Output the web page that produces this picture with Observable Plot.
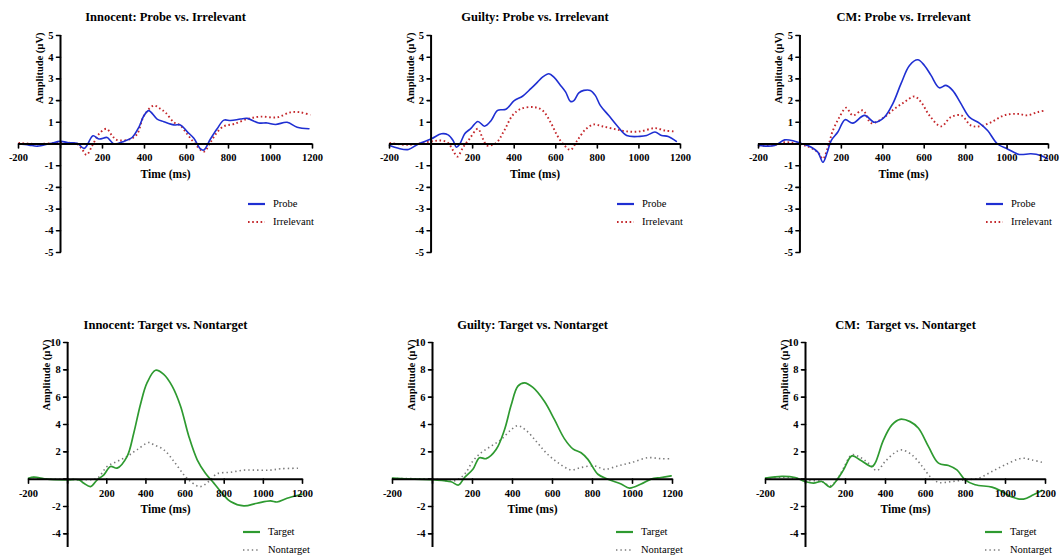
<!DOCTYPE html>
<html><head><meta charset="utf-8">
<script src="https://cdn.jsdelivr.net/npm/d3@7"></script>
<script src="https://cdn.jsdelivr.net/npm/@observablehq/plot@0.6"></script>
<style>
body{margin:0;background:#fff;}
#root{position:relative;width:1062px;height:560px;overflow:hidden;font-family:"Liberation Serif","Times New Roman",serif;}
.panel{position:absolute;}
.panel svg text{font-family:"Liberation Serif","Times New Roman",serif;}
.legend{position:absolute;font-size:10.5px;color:#000;line-height:18px;}
.legend .row{display:flex;align-items:center;height:18px;}
.legend svg{display:block;margin-right:8px;}
</style></head><body><div id="root"></div><script>
// ---- data (time in ms, amplitude in µV) ----
const xTicks = [-200, 0, 200, 400, 600, 800, 1000, 1200];
const xTickLabels = [-200, 200, 400, 600, 800, 1000, 1200];
const yTicksTop = [-5, -4, -3, -2, -1, 0, 1, 2, 3, 4, 5];
const yLabelsTop = [-5, -4, -3, -2, -1, 1, 2, 3, 4, 5];
const yTicksBottom = [-4, -2, 0, 2, 4, 6, 8, 10];
const yLabelsBottom = [-4, -2, 2, 4, 6, 8, 10];

const titles = ["Innocent: Probe vs. Irrelevant", "Guilty: Probe vs. Irrelevant", "CM: Probe vs. Irrelevant",
  "Innocent: Target vs. Nontarget", "Guilty: Target vs. Nontarget", "CM:  Target vs. Nontarget"];

const innocentProbe = [[-200,0],[-150,-0.05],[-110,-0.1],[-50,0.02],[0,0.12],[40,0.06],[80,0.03],[114,-0.2],[155,0.38],[183,0.23],[222,0.3],[238,0.15],[256,0],[302,0.12],[341,0.3],[373,0.77],[397,1.3],[420,1.54],[460,1.15],[492,1.03],[540,0.88],[571,0.88],[603,0.57],[635,0.26],[667,-0.23],[682,-0.28],[714,0.23],[746,0.7],[778,1.1],[810,1.08],[857,1.15],[889,1.18],[944,0.97],[984,0.97],[1024,0.9],[1079,1.0],[1127,0.77],[1183,0.7]];
const innocentIrrelevant = [[-200,0.05],[-111,0],[0,0.05],[79,0],[103,-0.25],[124,-0.5],[151,-0.08],[183,0.46],[219,0.7],[246,0.38],[270,0.18],[333,0.23],[365,0.46],[397,1.3],[444,1.77],[476,1.62],[500,1.45],[540,1.0],[571,0.85],[603,0.46],[635,0.08],[682,-0.35],[714,0.08],[746,0.54],[778,0.82],[825,0.92],[889,1.15],[952,1.26],[1032,1.23],[1095,1.46],[1143,1.46],[1190,1.34]];
const guiltyProbe = [[-200,-0.07],[-157,-0.2],[-109,-0.25],[-61,0],[2,0.24],[50,0.47],[82,0.42],[106,0.16],[122,-0.15],[138,0],[162,0.47],[193,0.73],[225,1.04],[257,0.82],[289,1.08],[320,1.55],[360,1.6],[400,2.0],[440,2.2],[480,2.55],[512,2.85],[536,3.08],[567,3.24],[591,3.08],[623,2.7],[647,2.4],[671,1.96],[687,2.0],[711,2.36],[735,2.47],[766,2.47],[790,2.24],[814,1.78],[854,1.32],[894,0.85],[941,0.39],[1005,0.35],[1037,0.39],[1077,0.55],[1109,0.39],[1141,0.35],[1180,0.12]];
const guiltyIrrelevant = [[-200,0.05],[-109,-0.04],[2,0.12],[50,0.16],[82,0.05],[106,-0.3],[127,-0.58],[154,-0.15],[185,0.24],[225,0.7],[249,0.24],[270,-0.07],[313,0.05],[352,0.62],[392,1.32],[432,1.62],[496,1.7],[536,1.55],[575,1.0],[607,0.39],[639,-0.04],[671,-0.27],[703,0.16],[743,0.67],[782,0.9],[822,0.82],[878,0.7],[941,0.58],[1005,0.58],[1077,0.73],[1125,0.62],[1173,0.58]];
const cmProbe = [[-200,-0.07],[-122,-0.07],[-74,0.19],[-26,0.13],[14,0],[55,-0.15],[87,-0.38],[111,-0.84],[132,-0.38],[151,0.16],[183,0.55],[218,1.12],[255,0.96],[312,1.32],[360,1.0],[408,1.24],[448,1.85],[488,2.78],[529,3.62],[569,3.88],[601,3.62],[633,3.16],[673,2.59],[705,2.7],[737,2.47],[778,1.85],[818,1.24],[866,0.96],[906,0.62],[954,0],[1002,-0.23],[1059,-0.48],[1115,-0.45],[1163,-0.53],[1195,-0.68]];
const cmIrrelevant = [[-200,-0.07],[-122,-0.04],[-74,0.08],[-26,0.04],[39,-0.12],[87,-0.38],[111,-0.68],[135,-0.15],[159,0.62],[191,1.24],[223,1.67],[255,1.32],[304,1.55],[344,0.96],[408,1.24],[456,1.62],[504,1.93],[553,2.19],[585,1.93],[625,1.32],[681,0.81],[729,1.24],[778,1.32],[826,0.85],[866,0.81],[922,1.0],[986,1.32],[1051,1.39],[1099,1.32],[1147,1.47],[1187,1.55]];

const innocentTarget = [[-200,0.07],[-172,0.15],[-104,0],[0,-0.05],[58,-0.05],[83,-0.3],[117,-0.54],[151,-0.05],[185,0.32],[219,0.93],[253,0.81],[304,1.67],[338,3.38],[372,5.47],[406,7.06],[449,7.97],[491,7.67],[534,6.81],[577,5.34],[619,3.14],[662,1.42],[704,0.44],[747,-0.29],[789,-1.03],[832,-1.64],[900,-1.96],[968,-1.76],[1036,-1.59],[1070,-1.67],[1121,-1.4],[1197,-1.1]];
const innocentNontarget = [[-200,0.07],[-172,0.12],[-104,0],[0,0],[83,-0.05],[151,0.07],[202,0.93],[253,1.3],[304,1.67],[355,2.16],[415,2.68],[440,2.52],[491,2.16],[543,1.3],[594,0.32],[628,-0.17],[675,-0.55],[721,-0.17],[764,0.4],[832,0.5],[900,0.66],[968,0.66],[1036,0.66],[1087,0.76],[1189,0.8]];
const guiltyTarget = [[-200,0.07],[-90,0],[10,-0.05],[93,-0.19],[130,-0.43],[160,0.12],[202,0.72],[235,1.57],[268,1.5],[318,2.17],[360,3.62],[393,5.4],[427,6.81],[460,7.05],[502,6.71],[560,5.68],[610,4.35],[660,2.95],[702,2.22],[743,1.93],[777,1.45],[827,0.36],[877,0],[943,-0.36],[985,-0.65],[1043,-0.36],[1093,0],[1143,0.12],[1193,0.24]];
const guiltyNontarget = [[-200,0.05],[10,0],[110,-0.12],[160,0.36],[202,1.33],[243,1.93],[293,2.42],[343,2.9],[393,3.62],[427,3.91],[468,3.57],[518,2.78],[568,1.93],[627,1.21],[693,0.68],[743,0.85],[810,0.97],[860,0.72],[927,0.97],[993,1.21],[1077,1.57],[1143,1.5],[1193,1.5]];
const cmTarget = [[-200,0.07],[-118,0.2],[-52,0.12],[-2,-0.17],[40,-0.29],[82,-0.17],[123,-0.58],[157,-0.05],[190,0.68],[232,1.7],[273,1.41],[332,0.92],[348,1.17],[390,2.87],[432,3.97],[473,4.38],[523,4.21],[565,3.72],[615,2.38],[665,1.17],[715,1.0],[757,0.68],[798,-0.05],[848,-0.41],[932,-0.58],[982,-0.9],[1032,-1.31],[1090,-1.46],[1140,-1.14],[1182,-0.83]];
const cmNontarget = [[-200,0.07],[-118,0.15],[-52,0.07],[15,-0.1],[82,-0.17],[123,-0.49],[157,-0.05],[190,0.8],[232,1.78],[273,1.6],[315,1.17],[357,0.63],[398,1.29],[448,1.95],[482,2.14],[532,1.78],[582,0.97],[623,0.19],[665,-0.24],[732,-0.17],[798,-0.05],[865,0.07],[932,0.56],[998,1.05],[1082,1.53],[1132,1.41],[1182,1.24]];

// ---- styles ----
const FONT = '"Liberation Serif", "Times New Roman", serif';
const probeStyle = {label: "Probe", stroke: "#1f2fd2", strokeWidth: 1.6, dash: null};
const irrStyle = {label: "Irrelevant", stroke: "#c4272b", strokeWidth: 1.9, dash: "1.6 2.6"};
const targetStyle = {label: "Target", stroke: "#2e9a30", strokeWidth: 1.7, dash: null};
const nontargetStyle = {label: "Nontarget", stroke: "#7a7a7a", strokeWidth: 1.6, dash: "1.4 3"};

const tickShape = {draw(context, l) { context.moveTo(0, 0); context.lineTo(0, -l); }};

const panels = [
  {left: 0, top: 0, h: 260, ml: 18, mr: 42, mt: 35, mb: 8, yDomain: [-5, 5], yTicks: yTicksTop, yLabels: yLabelsTop, a: innocentProbe, b: innocentIrrelevant, sa: probeStyle, sb: irrStyle, legend: [248, 195]},
  {left: 354, top: 0, h: 260, ml: 35, mr: 28, mt: 35, mb: 8, yDomain: [-5, 5], yTicks: yTicksTop, yLabels: yLabelsTop, a: guiltyProbe, b: guiltyIrrelevant, sa: probeStyle, sb: irrStyle, legend: [617, 195]},
  {left: 708, top: 0, h: 260, ml: 50, mr: 14, mt: 35, mb: 8, yDomain: [-5, 5], yTicks: yTicksTop, yLabels: yLabelsTop, a: cmProbe, b: cmIrrelevant, sa: probeStyle, sb: irrStyle, legend: [986, 195]},
  {left: 0, top: 280, h: 280, ml: 28, mr: 52, mt: 62, mb: 13, yDomain: [-5, 10], yTicks: yTicksBottom, yLabels: yLabelsBottom, a: innocentTarget, b: innocentNontarget, sa: targetStyle, sb: nontargetStyle, legend: [243, 523]},
  {left: 354, top: 280, h: 280, ml: 38, mr: 36, mt: 62, mb: 13, yDomain: [-5, 10], yTicks: yTicksBottom, yLabels: yLabelsBottom, a: guiltyTarget, b: guiltyNontarget, sa: targetStyle, sb: nontargetStyle, legend: [616, 523]},
  {left: 708, top: 280, h: 280, ml: 57, mr: 17, mt: 62, mb: 13, yDomain: [-5, 10], yTicks: yTicksBottom, yLabels: yLabelsBottom, a: cmTarget, b: cmNontarget, sa: targetStyle, sb: nontargetStyle, legend: [985, 523]}
];

const root = document.getElementById("root");

function lineMark(data, s) {
  return Plot.line(data, {x: d => d[0], y: d => d[1], curve: "catmull-rom", stroke: s.stroke, strokeWidth: s.strokeWidth,
    strokeDasharray: s.dash || undefined, strokeLinecap: s.dash ? "butt" : "round", strokeLinejoin: "round"});
}

const txt = {fontFamily: FONT, fontWeight: "bold", fill: "#000"};

panels.forEach((p, i) => {
  const svg = Plot.plot({
    width: 354, height: p.h,
    marginLeft: p.ml, marginRight: p.mr, marginTop: p.mt, marginBottom: p.mb,
    x: {domain: [-200, 1200], axis: null},
    y: {domain: p.yDomain, axis: null},
    style: {fontFamily: FONT, background: "transparent", overflow: "visible"},
    marks: [
      lineMark(p.b, p.sb),
      lineMark(p.a, p.sa),
      Plot.ruleY([0], {x1: -200, x2: 1200, stroke: "#000", strokeWidth: 2}),
      Plot.ruleX([0], {y1: p.yDomain[0], y2: p.yDomain[1], stroke: "#000", strokeWidth: 2}),
      Plot.vector(xTicks, {x: d => d, y: 0, length: 4, rotate: 180, anchor: "start", shape: tickShape, stroke: "#000", strokeWidth: 1.6}),
      Plot.vector(p.yTicks, {x: 0, y: d => d, length: 4, rotate: -90, anchor: "start", shape: tickShape, stroke: "#000", strokeWidth: 1.6}),
      Plot.text(xTickLabels, {x: d => d, y: 0, text: d => String(d), dy: 14, fontSize: 10.5, ...txt}),
      Plot.text(p.yLabels, {x: 0, y: d => d, text: d => String(d), dx: -7, textAnchor: "end", fontSize: 10.5, ...txt}),
      Plot.text(["Time (ms)"], {y: 0, text: d => d, dy: 30, fontSize: 11.5, ...txt}),
      Plot.text(["Amplitude (µV)"], {x: 0, frameAnchor: "top", text: d => d, rotate: -90, textAnchor: "end", dx: -25, dy: -3, fontSize: 10.5, ...txt}),
      Plot.text([titles[i]], {frameAnchor: "top", text: d => d, dy: i < 3 ? -23 : -22, fontSize: 12.5, ...txt})
    ]
  });
  const div = document.createElement("div");
  div.className = "panel";
  div.style.left = p.left + "px";
  div.style.top = p.top + "px";
  div.appendChild(svg);
  root.appendChild(div);

  const lg = document.createElement("div");
  lg.className = "legend";
  lg.style.left = p.legend[0] + "px";
  lg.style.top = p.legend[1] + "px";
  [p.sa, p.sb].forEach(s => {
    const row = document.createElement("div");
    row.className = "row";
    const ns = "http://www.w3.org/2000/svg";
    const sw = document.createElementNS(ns, "svg");
    sw.setAttribute("width", 17); sw.setAttribute("height", 6);
    const ln = document.createElementNS(ns, "line");
    ln.setAttribute("x1", 0); ln.setAttribute("x2", 17); ln.setAttribute("y1", 3); ln.setAttribute("y2", 3);
    ln.setAttribute("stroke", s.stroke); ln.setAttribute("stroke-width", s.dash ? s.strokeWidth : 2.2);
    if (s.dash) ln.setAttribute("stroke-dasharray", s.dash);
    sw.appendChild(ln);
    row.appendChild(sw);
    const tx = document.createElement("span");
    tx.textContent = s.label;
    row.appendChild(tx);
    lg.appendChild(row);
  });
  root.appendChild(lg);
});
</script></body></html>
